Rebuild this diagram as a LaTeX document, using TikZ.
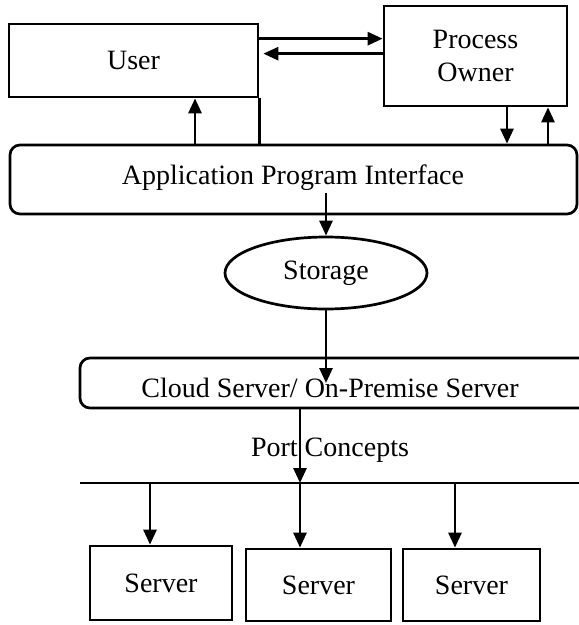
\documentclass[tikz,border=0pt]{standalone}
\usepackage{fontspec}
\setmainfont{Liberation Serif}
\usetikzlibrary{shapes.geometric,arrows.meta,calc}
\begin{document}
\begin{tikzpicture}[x=1pt,y=-1pt,
  every node/.style={font=\fontsize{28}{33}\selectfont, inner sep=0pt},
  box/.style={draw, line width=2.7pt, rectangle},
  rbox/.style={draw, line width=2.7pt, rectangle, rounded corners=10pt},
  oval/.style={draw, line width=2.7pt, ellipse},
  arr/.style={line width=2.7pt, -{Triangle[length=15pt,width=13pt]}},
  ln/.style={line width=2.7pt}]
\useasboundingbox (0,0) rectangle (579,625);

% top row
\node[box, minimum width=249pt, minimum height=73pt] (user) at (133.5,60.5) {User};
\node[box, minimum width=183pt, minimum height=100pt, align=center] (owner) at (475.5,56) {Process\\Owner};

% interface bar
\node[rbox, minimum width=567pt, minimum height=69pt] (api) at (293.5,179.5) {};
\node (apitxt) at (293,178) {Application Program Interface};

% storage
\node[oval, minimum width=202pt, minimum height=72pt] (st) at (326,273) {Storage};

% server bar, running past the right edge
\node[rbox, minimum width=540pt, minimum height=50pt] (cloud) at (350,383) {};
\node (cloudtxt) at (330,388) {Cloud Server/ On-Premise Server};

% port bus
\node (port) at (330,450) {Port Concepts};
\coordinate (busL) at (80,483);
\coordinate (busR) at (600,483);
\coordinate (b1) at (150,483);
\coordinate (b2) at (300,483);
\coordinate (b3) at (455,483);

% servers
\node[box, minimum width=142pt, minimum height=74pt] (s1) at (161,583) {Server};
\node[box, minimum width=145pt, minimum height=72pt] (s2) at (318.5,585) {Server};
\node[box, minimum width=137pt, minimum height=72pt] (s3) at (471.5,585) {Server};

% user <-> owner
\coordinate (toR) at ($(user.north east)+(0,16)$);
\coordinate (toL) at ($(user.north east)+(4,31)$);
\draw[arr] (toR) -- (toR -| owner.west);
\draw[arr] (toL -| owner.west) -- (toL);

% interface <-> user / owner
\coordinate (u1) at (195,0);
\coordinate (o1) at (507,0);
\coordinate (o2) at (548,0);
\draw[arr] (api.north -| u1) -- (user.south -| u1);
\draw[ln] (user.south east) -- (user.south east |- api.north);
\draw[arr] (owner.south -| o1) -- (api.north -| o1);
\draw[arr] (api.north -| o2) -- (owner.south -| o2);

% interface -> storage -> server bar
\coordinate (apiout) at ($(st.north |- api.center)+(0,13)$);
\draw[arr] (apiout) -- (st.north);
\draw[arr] (st.south) -- (st.south |- cloud.center);

% server bar -> bus -> servers
\draw[arr] (b2 |- cloud.south) -- (b2);
\draw[ln] (busL) -- (busR);
\draw[arr] (b1) -- (b1 |- s1.north);
\draw[arr] (b2) -- (b2 |- s2.north);
\draw[arr] (b3) -- (b3 |- s3.north);
\end{tikzpicture}
\end{document}
